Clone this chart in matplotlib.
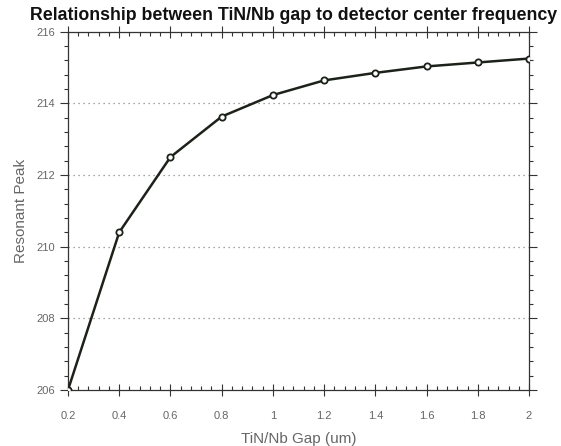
import matplotlib
matplotlib.use("Agg")
import matplotlib.pyplot as plt
from matplotlib.ticker import MultipleLocator, FormatStrFormatter

gap_um = [0.2, 0.4, 0.6, 0.8, 1.0, 1.2, 1.4, 1.6, 1.8, 2.0]
resonant_peak = [206.0, 210.40, 212.50, 213.63, 214.23, 214.64, 214.85, 215.03, 215.14, 215.25]
x_ticks = [0.2, 0.4, 0.6, 0.8, 1.0, 1.2, 1.4, 1.6, 1.8, 2.0]
x_ticklabels = ["0.2", "0.4", "0.6", "0.8", "1", "1.2", "1.4", "1.6", "1.8", "2"]
y_ticks = [206, 208, 210, 212, 214, 216]

plt.rcParams['font.family'] = ['Liberation Sans', 'DejaVu Sans']

fig = plt.figure(figsize=(5.61, 4.46), dpi=100)
ax = fig.add_axes([0.1212, 0.1256, 0.8218, 0.8034])

ax.plot(gap_um, resonant_peak, color='#1c221a', lw=1.8,
        marker='o', ms=4.5, mfc='white', mec='#1c221a', mew=1.3, zorder=3)

ax.set_xlim(0.2, 2.0)
ax.set_ylim(206, 216)
ax.set_xticks(x_ticks)
ax.set_xticklabels(x_ticklabels)
ax.set_yticks(y_ticks)
ax.yaxis.set_major_formatter(FormatStrFormatter('%d'))
ax.xaxis.set_minor_locator(MultipleLocator(0.04))
ax.yaxis.set_minor_locator(MultipleLocator(0.4))

for yv in [208, 210, 212, 214]:
    ax.axhline(yv, color='#888888', lw=0.9, ls=(0, (1, 3)), zorder=1)

for s in ax.spines.values():
    s.set_color('#333333')
    s.set_linewidth(0.9)

ax.tick_params(axis='y', which='both', left=True, right=True, direction='out',
               colors='#333333', labelcolor='#666666', labelsize=8)
ax.tick_params(axis='y', which='major', length=6, width=0.8)
ax.tick_params(axis='y', which='minor', length=3, width=0.8)
ax.tick_params(axis='x', which='both', bottom=True, top=True,
               colors='#333333', labelcolor='#666666', labelsize=8)
ax.tick_params(axis='x', which='major', direction='inout', length=8, width=0.8, pad=11)
ax.tick_params(axis='x', which='minor', direction='in', length=3, width=0.8)

ax.set_xlabel("TiN/Nb Gap (um)", fontsize=11, color='#666666', labelpad=8)
ax.set_ylabel("Resonant Peak", fontsize=11, color='#666666', labelpad=6)
fig.text(0.524, 0.966, "Relationship between TiN/Nb gap to detector center frequency",
         ha='center', va='center', fontsize=12.8, fontweight='bold', color='#111111')

fig.savefig("out.png", dpi=100)
